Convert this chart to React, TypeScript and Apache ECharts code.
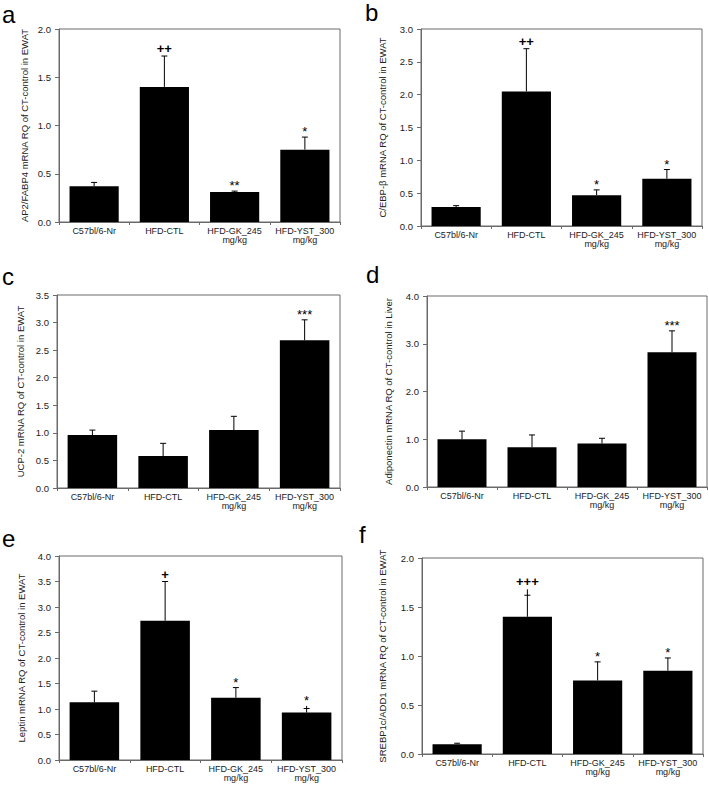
import React, { useEffect, useRef } from "react";
import * as echarts from "echarts";

const categories = ["C57bl/6-Nr", "HFD-CTL", "HFD-GK_245\nmg/kg", "HFD-YST_300\nmg/kg"];

// Panel a: AP2/FABP4
const aMeans = [0.37, 1.4, 0.31, 0.75];
const aErrTop = [0.41, 1.72, 0.32, 0.88];
const aCap = [0.41, 1.72, 0.32, 0.88];
const aMarks = ["", "++", "**", "*"];

// Panel b: C/EBP-β
const bMeans = [0.29, 2.05, 0.47, 0.72];
const bErrTop = [0.31, 2.7, 0.55, 0.86];
const bCap = [0.31, 2.7, 0.55, 0.86];
const bMarks = ["", "++", "*", "*"];

// Panel c: UCP-2
const cMeans = [0.96, 0.58, 1.05, 2.68];
const cErrTop = [1.05, 0.81, 1.3, 3.05];
const cCap = [1.05, 0.81, 1.3, 3.05];
const cMarks = ["", "", "", "***"];

// Panel d: Adiponectin
const dMeans = [1.0, 0.83, 0.91, 2.82];
const dErrTop = [1.17, 1.09, 1.02, 3.27];
const dCap = [1.17, 1.09, 1.02, 3.27];
const dMarks = ["", "", "", "***"];

// Panel e: Leptin
const eMeans = [1.13, 2.73, 1.22, 0.93];
const eErrTop = [1.35, 3.5, 1.42, 1.06];
const eCap = [1.35, 3.5, 1.42, 1.01];
const eMarks = ["", "+", "*", "*"];

// Panel f: SREBP1c/ADD1
const fMeans = [0.1, 1.4, 0.75, 0.85];
const fErrTop = [0.11, 1.68, 0.94, 0.98];
const fCap = [0.11, 1.62, 0.94, 0.98];
const fMarks = ["", "+++", "*", "*"];

const letters = ["a", "b", "c", "d", "e", "f"];
const yTitles = [
  "AP2/FABP4 mRNA RQ of CT-control in EWAT",
  "C/EBP-β mRNA RQ of CT-control in EWAT",
  "UCP-2 mRNA RQ of CT-control in EWAT",
  "Adiponectin mRNA RQ of CT-control in Liver",
  "Leptin mRNA RQ of CT-control in EWAT",
  "SREBP1c/ADD1 mRNA RQ of CT-control in EWAT",
];
const yMax = [2.0, 3.0, 3.5, 4.0, 4.0, 2.0];
const yStep = [0.5, 0.5, 0.5, 1.0, 0.5, 0.5];

const panels = [
  { means: aMeans, err: aErrTop, cap: aCap, marks: aMarks, grid: { left: 59, top: 29, width: 281, height: 193 }, gap: 30, letter: [2, 2] },
  { means: bMeans, err: bErrTop, cap: bCap, marks: bMarks, grid: { left: 421, top: 29, width: 281, height: 197 }, gap: 34, letter: [365, 0] },
  { means: cMeans, err: cErrTop, cap: cCap, marks: cMarks, grid: { left: 57, top: 295, width: 283, height: 193 }, gap: 32, letter: [2, 264] },
  { means: dMeans, err: dErrTop, cap: dCap, marks: dMarks, grid: { left: 427, top: 296, width: 280, height: 191 }, gap: 34, letter: [366, 262] },
  { means: eMeans, err: eErrTop, cap: eCap, marks: eMarks, grid: { left: 59, top: 556, width: 283, height: 204 }, gap: 33, letter: [2, 526] },
  { means: fMeans, err: fErrTop, cap: fCap, marks: fMarks, grid: { left: 422, top: 558, width: 281, height: 196 }, gap: 35, letter: [359, 522] },
];

const FONT = "Liberation Sans, Arial, sans-serif";
const AXIS = "#6a6a6a";

export default function App() {
  const ref = useRef<HTMLDivElement>(null);
  useEffect(() => {
    if (!ref.current) return;
    const chart = echarts.init(ref.current, undefined, { renderer: "svg" });
    const grids: any[] = [];
    const xAxes: any[] = [];
    const yAxes: any[] = [];
    const series: any[] = [];
    const graphics: any[] = [];
    panels.forEach((p, i) => {
      grids.push({ ...p.grid, show: true, borderColor: AXIS, borderWidth: 1, backgroundColor: "transparent" });
      xAxes.push({
        type: "category",
        gridIndex: i,
        data: categories,
        axisLine: { show: true, lineStyle: { color: AXIS } },
        axisTick: { show: true, length: 3, alignWithLabel: false, lineStyle: { color: AXIS } },
        axisLabel: { color: "#222", fontSize: 9, fontFamily: FONT, margin: 5, lineHeight: 8.5, interval: 0 },
      });
      yAxes.push({
        type: "value",
        gridIndex: i,
        min: 0,
        max: yMax[i],
        interval: yStep[i],
        name: yTitles[i],
        nameLocation: "middle",
        nameGap: p.gap,
        nameTextStyle: { color: "#222", fontSize: 9.5, fontFamily: FONT },
        axisLine: { show: true, lineStyle: { color: AXIS } },
        axisTick: { show: true, length: 4, lineStyle: { color: AXIS } },
        splitLine: { show: false },
        axisLabel: { color: "#222", fontSize: 9.5, fontFamily: FONT, margin: 8, formatter: (v: number) => v.toFixed(1) },
      });
      series.push({
        type: "bar",
        xAxisIndex: i,
        yAxisIndex: i,
        data: p.means,
        barWidth: "70%",
        itemStyle: { color: "#000" },
        z: 2,
      });
      const marks = p.marks;
      series.push({
        type: "custom",
        xAxisIndex: i,
        yAxisIndex: i,
        z: 3,
        data: p.means.map((m, k) => [k, m, p.err[k], p.cap[k]]),
        renderItem: (params: any, api: any) => {
          const idx = api.value(0);
          const p0 = api.coord([idx, api.value(1)]);
          const p1 = api.coord([idx, api.value(2)]);
          const pc = api.coord([idx, api.value(3)]);
          const children: any[] = [
            { type: "line", shape: { x1: p0[0], y1: p0[1], x2: p1[0], y2: p1[1] }, style: { stroke: "#000", lineWidth: 1 } },
            { type: "line", shape: { x1: pc[0] - 3, y1: pc[1], x2: pc[0] + 3, y2: pc[1] }, style: { stroke: "#000", lineWidth: 1 } },
          ];
          const mark = marks[params.dataIndex];
          if (mark) {
            const isPlus = mark.indexOf("+") >= 0;
            children.push({
              type: "text",
              x: p1[0],
              y: p1[1] + (isPlus ? -1 : 1),
              style: {
                text: mark,
                fill: "#000",
                fontSize: isPlus ? 13 : 13,
                fontFamily: FONT,
                fontWeight: isPlus ? "bold" : "normal",
                align: "center",
                verticalAlign: "bottom",
              },
            });
          }
          return { type: "group", children };
        },
      });
      graphics.push({
        type: "text",
        left: p.letter[0],
        top: p.letter[1],
        style: { text: letters[i], fontSize: 24, fontFamily: FONT, fill: "#000" },
      });
    });
    chart.setOption({
      animation: false,
      backgroundColor: "#fff",
      grid: grids,
      xAxis: xAxes,
      yAxis: yAxes,
      series,
      graphic: graphics,
    });
    return () => chart.dispose();
  }, []);
  return <div ref={ref} style={{ position: "absolute", left: 0, top: 0, width: 709, height: 785 }} />;
}
